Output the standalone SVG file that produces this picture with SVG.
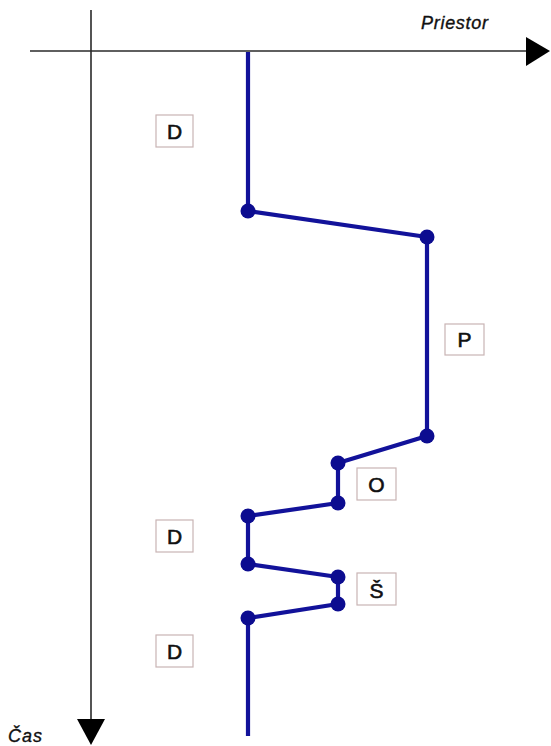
<svg xmlns="http://www.w3.org/2000/svg" width="551" height="746" viewBox="0 0 551 746">
  <defs>
    <style>
      .axis { stroke: #2a2a2a; stroke-width: 1.6; fill: none; }
      .head { fill: #000; }
      .axis-label { font-family: "Liberation Sans", Arial, sans-serif; font-style: italic; font-size: 18px; fill: #111; stroke: #111; stroke-width: 0.35; }
      .track { stroke: #12129a; stroke-width: 4.2; fill: none; stroke-linejoin: round; }
      .dot { fill: #0c0c90; }
      .box { fill: #fff; stroke: #c9b4b4; stroke-width: 1.2; }
      .tag { font-family: "Liberation Sans", Arial, sans-serif; font-size: 21px; fill: #111; stroke: #111; stroke-width: 0.6; text-anchor: middle; }
    </style>
  </defs>

  <!-- axes -->
  <g id="axes">
    <line class="axis" x1="30" y1="51" x2="528" y2="51"/>
    <polygon class="head" points="526,37 550,51 526,66"/>
    <line class="axis" x1="91" y1="10" x2="91" y2="721"/>
    <polygon class="head" points="77,719 105,719 91,745"/>
    <text class="axis-label" x="421" y="29" textLength="67">Priestor</text>
    <text class="axis-label" x="8" y="742" textLength="34">Čas</text>
  </g>

  <!-- movement track -->
  <g id="connectors">
    <polyline class="track" points="248,52 248,211 427,237 427,436 338,463 338,503 248,516 248,564 338,577 338,604 248,618 248,736"/>
  </g>

  <g id="points">
    <circle class="dot" cx="248" cy="211" r="7.5"/>
    <circle class="dot" cx="427" cy="237" r="7.5"/>
    <circle class="dot" cx="427" cy="436" r="7.5"/>
    <circle class="dot" cx="338" cy="463" r="7.5"/>
    <circle class="dot" cx="338" cy="503" r="7.5"/>
    <circle class="dot" cx="248" cy="516" r="7.5"/>
    <circle class="dot" cx="248" cy="564" r="7.5"/>
    <circle class="dot" cx="338" cy="577" r="7.5"/>
    <circle class="dot" cx="338" cy="604" r="7.5"/>
    <circle class="dot" cx="248" cy="618" r="7.5"/>
  </g>

  <!-- state labels -->
  <g id="label-d1">
    <rect class="box" x="156" y="115" width="37" height="32"/>
    <text class="tag" x="174.5" y="139">D</text>
  </g>
  <g id="label-p">
    <rect class="box" x="445" y="324" width="39" height="31"/>
    <text class="tag" x="464.5" y="347">P</text>
  </g>
  <g id="label-o">
    <rect class="box" x="357" y="468" width="39" height="32"/>
    <text class="tag" x="376.5" y="492">O</text>
  </g>
  <g id="label-d2">
    <rect class="box" x="156" y="520" width="37" height="32"/>
    <text class="tag" x="174.5" y="544">D</text>
  </g>
  <g id="label-s">
    <rect class="box" x="357" y="573" width="39" height="32"/>
    <text class="tag" x="376.5" y="598">Š</text>
  </g>
  <g id="label-d3">
    <rect class="box" x="156" y="635" width="37" height="32"/>
    <text class="tag" x="174.5" y="659">D</text>
  </g>
</svg>
